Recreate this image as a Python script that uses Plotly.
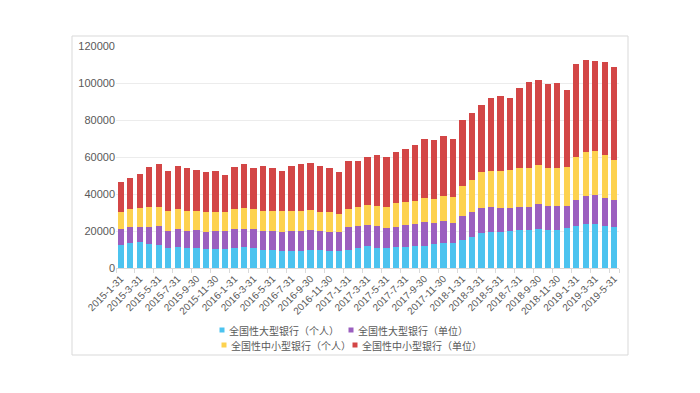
import plotly.graph_objects as go

categories = [
    "2015-1-31", "2015-2-28", "2015-3-31", "2015-4-30", "2015-5-31", "2015-6-30",
    "2015-7-31", "2015-8-31", "2015-9-30", "2015-10-31", "2015-11-30", "2015-12-31",
    "2016-1-31", "2016-2-29", "2016-3-31", "2016-4-30", "2016-5-31", "2016-6-30",
    "2016-7-31", "2016-8-31", "2016-9-30", "2016-10-31", "2016-11-30", "2016-12-31",
    "2017-1-31", "2017-2-28", "2017-3-31", "2017-4-30", "2017-5-31", "2017-6-30",
    "2017-7-31", "2017-8-31", "2017-9-30", "2017-10-31", "2017-11-30", "2017-12-31",
    "2018-1-31", "2018-2-28", "2018-3-31", "2018-4-30", "2018-5-31", "2018-6-30",
    "2018-7-31", "2018-8-31", "2018-9-30", "2018-10-31", "2018-11-30", "2018-12-31",
    "2019-1-31", "2019-2-28", "2019-3-31", "2019-4-30", "2019-5-31",
]

big_personal = [
    12430, 13690, 14050, 13150, 12250, 10810, 11350, 10990, 10810, 10450, 10270, 10270,
    10810, 11350, 10810, 9550, 9550, 9370, 9190, 9190, 9730, 9550, 9370, 9370,
    9910, 10810, 11710, 10810, 10810, 11530, 11530, 11710, 11890, 12790, 13330, 13330,
    15320, 16940, 19100, 19640, 19280, 20180, 20540, 20540, 20900, 20540, 20540, 21800,
    22890, 23970, 23970, 22890, 21980,
]
big_corporate = [
    8470, 8470, 7950, 9010, 10270, 9370, 9910, 9190, 9730, 9190, 9910, 9910,
    10270, 9910, 10090, 10630, 10630, 10270, 10990, 10990, 10630, 10270, 10270, 10270,
    12070, 11890, 11360, 11890, 10810, 10450, 11540, 12260, 12980, 11720, 12260, 11000,
    12970, 13330, 13520, 13510, 12980, 12260, 12440, 12260, 13520, 12980, 12980, 11720,
    13870, 14950, 15300, 14950, 14600,
]
small_personal = [
    9370, 9540, 10400, 10990, 10630, 10450, 10640, 10630, 10450, 10630, 10090, 10090,
    11000, 11180, 10810, 10820, 10630, 10990, 10630, 10450, 10810, 10450, 10450, 9730,
    9920, 10450, 10990, 11000, 11530, 13160, 12430, 12250, 12970, 12970, 13330, 14230,
    16220, 17300, 19100, 19290, 20180, 20720, 21080, 21440, 21260, 20540, 20720, 21080,
    23240, 23780, 23980, 23250, 21800,
]
small_corporate = [
    16030, 17100, 18400, 21450, 23250, 21620, 23060, 23250, 22170, 21450, 22170, 20190,
    22520, 23600, 22530, 24140, 23430, 21630, 24330, 25770, 25590, 24930, 23970, 22350,
    26120, 24870, 26130, 27200, 27040, 27560, 28650, 30450, 31900, 31720, 32440, 31180,
    35500, 36230, 36580, 39280, 40360, 38920, 43070, 46130, 45770, 45230, 45590, 41630,
    50100, 49750, 48840, 50450, 50460,
]

series_names = [
    "全国性大型银行（个人）",
    "全国性大型银行（单位）",
    "全国性中小型银行（个人）",
    "全国性中小型银行（单位）",
]
series_values = [big_personal, big_corporate, small_personal, small_corporate]
colors = ["#4cc3ef", "#9b5fbf", "#fdd24f", "#d34646"]

y_ticks = [0, 20000, 40000, 60000, 80000, 100000, 120000]

# page body has an 8px margin: the figure starts at (8, 8) in the window
OFF = 8
W, H = 700 - OFF, 393 - OFF
L, T = 116 - OFF, 46 - OFF
PW, PH = 503, 222
R = W - L - PW
B = H - T - PH


def px_to_paper(px, py):
    # px, py: window pixel coordinates
    return (px - OFF - L) / PW, (T + PH - (py - OFF)) / PH


fig = go.Figure()
for name, vals, col in zip(series_names, series_values, colors):
    fig.add_trace(go.Bar(x=categories, y=vals, name=name, marker_color=col,
                         marker_line_width=0, showlegend=False))

font_family = "Liberation Sans, Arial, Noto Sans CJK SC, sans-serif"

legend_pos = [(222, 330), (351, 330), (224, 345), (355, 345)]
shapes = []
annotations = []
x0p, y1p = px_to_paper(72, 36)
x1p, y0p = px_to_paper(628, 355)
shapes.append(dict(
    type="rect", xref="paper", yref="paper",
    x0=x0p, x1=x1p, y0=y0p, y1=y1p,
    line=dict(color="#d9d9d9", width=1),
    fillcolor="rgba(0,0,0,0)", layer="below",
))
for (lx, ly), name, col in zip(legend_pos, series_names, colors):
    sx0, sy0 = px_to_paper(lx - 2.5, ly + 2.5)
    sx1, sy1 = px_to_paper(lx + 2.5, ly - 2.5)
    shapes.append(dict(type="rect", xref="paper", yref="paper",
                       x0=sx0, x1=sx1, y0=sy0, y1=sy1,
                       line=dict(width=0), fillcolor=col))
    ax, ay = px_to_paper(lx + 5, ly)
    annotations.append(dict(
        xref="paper", yref="paper", x=ax, y=ay,
        xanchor="left", yanchor="middle", showarrow=False,
        text=name,
        font=dict(size=10, color="#595959", family="Noto Sans CJK SC, sans-serif"),
    ))

fig.update_layout(
    barmode="stack",
    bargap=0.33,
    width=W, height=H,
    margin=dict(l=L, r=R, t=T, b=B, autoexpand=False),
    paper_bgcolor="white",
    plot_bgcolor="white",
    font=dict(family=font_family, color="#595959", size=11),
    showlegend=False,
    xaxis=dict(
        type="category",
        tickmode="array",
        tickvals=categories[::2],
        ticktext=categories[::2],
        tickangle=-45,
        tickfont=dict(size=10, color="#595959"),
        showline=True, linecolor="#d9d9d9", linewidth=1,
        ticks="outside", ticklen=4, tickcolor="#d9d9d9",
        tickson="boundaries",
        showgrid=False,
        automargin=False,
    ),
    yaxis=dict(
        range=[0, 120000],
        tickmode="array",
        tickvals=y_ticks,
        ticktext=[str(v) for v in y_ticks],
        tickfont=dict(size=11, color="#595959"),
        showgrid=True, gridcolor="#ececec", gridwidth=1,
        zeroline=False,
        showline=False,
        ticks="",
        automargin=False,
    ),
    shapes=shapes,
    annotations=annotations,
)

fig.write_html("out.html")
